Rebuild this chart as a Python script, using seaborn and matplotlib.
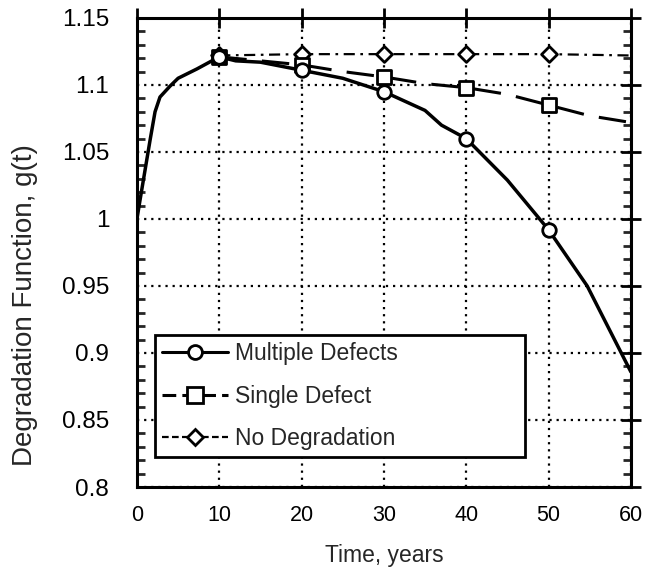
import numpy as np
import pandas as pd
import matplotlib
matplotlib.use("Agg")
import matplotlib.pyplot as plt
from matplotlib.lines import Line2D
from matplotlib.ticker import MultipleLocator
import seaborn as sns

# ---- data ----
t_mult = [0, 0.4, 1, 1.6, 2.2, 2.8, 4, 5, 7.3, 10, 12, 15, 20, 25, 30, 35, 37, 40, 45, 50, 54.7, 60]
g_mult = [1.0, 1.015, 1.037, 1.059, 1.08, 1.091, 1.099, 1.105, 1.112, 1.121, 1.118, 1.117, 1.111, 1.105,
          1.095, 1.081, 1.070, 1.060, 1.029, 0.992, 0.950, 0.886]

t_single = [10, 15, 20, 25, 30, 35, 40, 45, 50, 55, 60]
g_single = [1.121, 1.118, 1.115, 1.110, 1.106, 1.101, 1.098, 1.093, 1.085, 1.077, 1.072]

t_none = [10, 20, 30, 40, 50, 60]
g_none = [1.122, 1.123, 1.123, 1.123, 1.123, 1.122]

marker_times = [10, 20, 30, 40, 50]

labels = ["Multiple Defects", "Single Defect", "No Degradation"]
x_ticks = [0, 10, 20, 30, 40, 50, 60]
y_ticks = [0.8, 0.85, 0.9, 0.95, 1.0, 1.05, 1.1, 1.15]
y_ticklabels = ["0.8", "0.85", "0.9", "0.95", "1", "1.05", "1.1", "1.15"]

sns.set_theme(style="white")
plt.rcParams['font.family'] = ['Liberation Sans', 'DejaVu Sans']

df_m = pd.DataFrame({"t": t_mult, "g": g_mult})
df_s = pd.DataFrame({"t": t_single, "g": g_single})
df_n = pd.DataFrame({"t": t_none, "g": g_none})

fig = plt.figure(figsize=(6.49, 5.72), dpi=100)
ax = fig.add_axes([0.211, 0.1486, 0.761, 0.82])

# grid
ax.set_axisbelow(True)
ax.grid(True, which="major", color="black", linestyle=(0, (1, 2.2)), linewidth=1.6)

dash_single = (0, (9, 5))
dash_none = (0, (5, 2.5, 1.2, 2.5))

sns.lineplot(data=df_n, x="t", y="g", ax=ax, color="black", lw=1.6, linestyle=dash_none)
sns.lineplot(data=df_s, x="t", y="g", ax=ax, color="black", lw=2.2, linestyle=dash_single)
sns.lineplot(data=df_m, x="t", y="g", ax=ax, color="black", lw=2.5)

mk = dict(facecolor="white", edgecolor="black", linewidth=2.0, zorder=5)
sns.scatterplot(data=df_n[df_n.t.isin(marker_times)], x="t", y="g", ax=ax, marker="D", s=65, **mk)
sns.scatterplot(data=df_s[df_s.t.isin(marker_times)], x="t", y="g", ax=ax, marker="s", s=95, **mk)
sns.scatterplot(data=df_m[df_m.t.isin(marker_times)], x="t", y="g", ax=ax, marker="o", s=95, **mk)

ax.set_xlim(0, 60)
ax.set_ylim(0.8, 1.15)
ax.set_xticks(x_ticks)
ax.set_yticks(y_ticks)
ax.set_yticklabels(y_ticklabels)
ax.yaxis.set_minor_locator(MultipleLocator(0.01))

for s in ax.spines.values():
    s.set_linewidth(2.2)
    s.set_color("black")

ax.tick_params(axis="both", which="major", direction="inout", length=14, width=2,
               top=True, right=True, colors="black")
ax.tick_params(axis="x", which="major", labelsize=15.5, pad=6)
ax.tick_params(axis="y", which="major", labelsize=17.5, pad=13)
ax.tick_params(axis="y", which="minor", direction="in", length=6, width=2, left=True, right=True)

ax.set_xlabel("Time, years", fontsize=16.5, labelpad=13)
ax.set_ylabel("Degradation Function, g(t)", fontsize=20)
ax.yaxis.set_label_coords(-0.200, 0.388)

handles = [
    Line2D([], [], color="black", lw=2.2, marker="o", markersize=10, markerfacecolor="white", markeredgewidth=2),
    Line2D([], [], color="black", lw=2.2, linestyle=(0, (4.5, 2)), marker="s", markersize=12, markerfacecolor="white", markeredgewidth=2),
    Line2D([], [], color="black", lw=1.6, linestyle=(0, (3, 1.5)), marker="D", markersize=8.5, markerfacecolor="white", markeredgewidth=2),
]
leg = ax.legend(handles, labels, loc="lower left", bbox_to_anchor=(0.036, 0.064, 0.749, 0.260),
                mode="expand", fontsize=16.5, frameon=True, fancybox=False, handlelength=2.9,
                handletextpad=0.3, borderpad=0.3, labelspacing=0.85, borderaxespad=0)
leg.get_frame().set_edgecolor("black")
leg.get_frame().set_linewidth(2)
leg.get_frame().set_alpha(1)

fig.savefig("out.png", dpi=100)
